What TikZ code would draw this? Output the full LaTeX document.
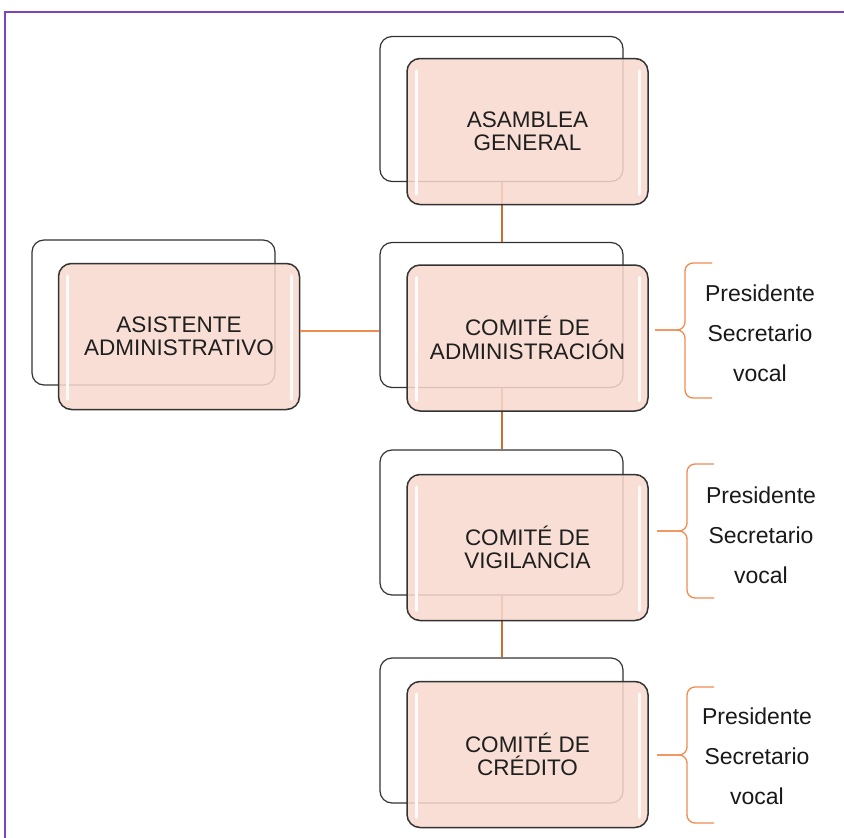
\documentclass[tikz,border=0pt]{standalone}
\usepackage{fontspec}
\setmainfont{Liberation Sans}
\definecolor{boxfill}{RGB}{247,217,206}
\definecolor{linkcol}{RGB}{200,108,48}
\definecolor{bracecol}{RGB}{240,140,80}
\definecolor{framecol}{RGB}{126,68,190}
\begin{document}
\begin{tikzpicture}[x=1pt,y=-1pt,
  backbox/.style={draw=black!80, line width=1.2pt, rounded corners=12pt,
    minimum width=243pt, minimum height=145pt, inner sep=0pt},
  frontbox/.style={draw=black!80, line width=1.5pt, rounded corners=13pt,
    fill=boxfill, fill opacity=0.86, text opacity=1,
    minimum width=241pt, minimum height=146pt, inner sep=0pt,
    align=center, font=\fontsize{22.5}{23.5}\selectfont, text=black!88},
  link/.style={draw=linkcol, line width=2pt},
  bracestyle/.style={draw=bracecol, line width=1.3pt, rounded corners=8pt},
  roles/.style={align=center, font=\fontsize{23}{40}\selectfont, text=black!90},
  shine/.style={draw=white, line width=3pt, line cap=round, opacity=0.9}
]
\useasboundingbox (0,0) rectangle (844,838);
\fill[white] (0,0) rectangle (844,838);
% frame
\draw[framecol, line width=2pt] (5,838) -- (5,12) -- (844,12);

% back boxes
\node[backbox] (agB)   at (501.5,109) {};
\node[backbox] (admB)  at (501.5,315) {};
\node[backbox] (vigB)  at (501.5,522.5) {};
\node[backbox] (credB) at (501.5,730.5) {};
\node[backbox] (asisB) at (153.5,312.5) {};

% connectors
\draw[link] (agB.south) -- (admB.north);
\draw[link] (admB.south) -- (vigB.north);
\draw[link] (vigB.south) -- (credB.north);

% front boxes
\node[frontbox] (agF)   at (527.5,131.5) {ASAMBLEA\\GENERAL};
\node[frontbox] (admF)  at (527.5,338)   {COMITÉ DE\\ADMINISTRACIÓN};
\node[frontbox] (vigF)  at (527.5,547.5) {COMITÉ DE\\VIGILANCIA};
\node[frontbox] (credF) at (527.5,754.5) {COMITÉ DE\\CRÉDITO};
\node[frontbox] (asisF) at (179,336.5)   {ASISTENTE\\ADMINISTRATIVO};

% highlights
\foreach \n in {agF,admF,vigF,credF,asisF}{
  \draw[shine] ([xshift=10pt,yshift=-13pt]\n.north west) -- ([xshift=10pt,yshift=11pt]\n.south west);
  \draw[shine] ([xshift=-9pt,yshift=-13pt]\n.north east) -- ([xshift=-9pt,yshift=11pt]\n.south east);
}

% horizontal connector
\coordinate (hlA) at (asisF.east |- 0,331);
\coordinate (hlB) at (admB.west |- 0,331);
\draw[link, line width=1.3pt, draw=bracecol] (hlA) -- (hlB);

% braces and role lists
\foreach \n/\tx/\top/\bot/\mid/\cx/\cy in {adm/655/263/398/330/760/333, vig/657/464/598/531/761/535, cred/657/687/823/755/757/756}{
  \coordinate (\n Tip) at (\tx,\mid);
  \draw[bracestyle] (\tx+57,\top) -- (\tx+30,\top) -- (\tx+30,\mid) -- (\n Tip);
  \draw[bracestyle] (\n Tip) -- (\tx+30,\mid) -- (\tx+30,\bot) -- (\tx+57,\bot);
  \node[roles] (\n Roles) at (\cx,\cy) {Presidente\\Secretario\\vocal};
}
\end{tikzpicture}
\end{document}
